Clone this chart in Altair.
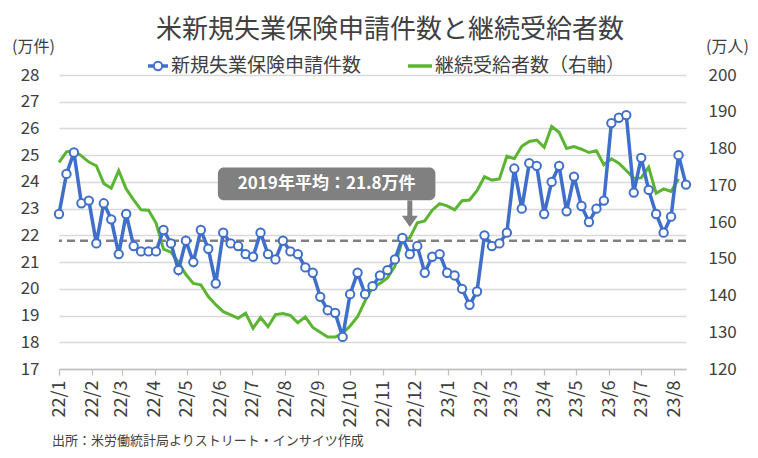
import altair as alt
import pandas as pd

TITLE = "米新規失業保険申請件数と継続受給者数"
LEFT_UNIT = "(万件)"
RIGHT_UNIT = "(万人)"
SERIES_CLAIMS = "新規失業保険申請件数"
SERIES_CONT = "継続受給者数（右軸）"
SOURCE = "出所：米労働統計局よりストリート・インサイツ作成"
AVG_LABEL = "2019年平均：21.8万件"
AVG_2019 = [21.8]

first_week = "2022-01-01"
last_day = "2023-08-12"

# weekly initial claims (万件), week ending Saturdays
claims = [22.8, 24.3, 25.1, 23.2, 23.3, 21.7, 23.2, 22.6, 21.3, 22.8,
          21.6, 21.4, 21.4, 21.4, 22.2, 21.7, 20.7, 21.8, 21.0, 22.2,
          21.5, 20.2, 22.1, 21.7, 21.6, 21.3, 21.2, 22.1, 21.3, 21.1,
          21.8, 21.4, 21.3, 20.8, 20.6, 19.7, 19.2, 19.1, 18.2, 19.8,
          20.6, 19.8, 20.1, 20.5, 20.7, 21.1, 21.9, 21.3, 21.6, 20.6,
          21.2, 21.3, 20.6, 20.5, 20.0, 19.4, 19.9, 22.0, 21.6, 21.7,
          22.1, 24.5, 23.0, 24.7, 24.6, 22.8, 24.0, 24.6, 22.9, 24.2,
          23.1, 22.5, 23.0, 23.3, 26.2, 26.4, 26.5, 23.6, 24.9, 23.7,
          22.8, 22.1, 22.7, 25.0, 23.9]

# continuing claims (万人), one week shorter
continuing = [176.2, 179.1, 179.4, 178.0, 176.3, 175.3, 170.5, 169.2, 174.0, 169.0,
              166.0, 163.3, 163.2, 159.7, 152.6, 151.8, 149.0, 145.7, 143.3, 142.9,
              139.7, 137.5, 135.6, 134.7, 133.8, 135.2, 131.1, 134.0, 131.5, 134.8,
              135.1, 134.6, 132.6, 134.2, 131.3, 130.0, 128.7, 128.7, 129.7, 131.7,
              134.2, 138.5, 142.3, 143.3, 144.8, 148.0, 155.1, 155.7, 159.8, 160.3,
              163.2, 165.0, 164.4, 163.3, 165.8, 166.0, 168.5, 172.3, 171.4, 171.7,
              177.9, 177.2, 180.6, 181.9, 182.3, 180.3, 186.0, 184.4, 180.0, 180.5,
              179.8, 178.9, 179.4, 175.6, 177.2, 176.0, 174.0, 171.9, 172.0, 174.9,
              167.8, 169.0, 168.3, 171.7]

left_ticks = list(range(17, 29))
right_ticks = list(range(120, 201, 10))

# annotation anchor (date range of box, arrow date, levels on left scale)
ann_box_dates = ["2022-05-30", "2022-12-20"]
ann_arrow_date = "2022-11-26"
ann_box_levels = [24.54, 23.31]
ann_text_level = 23.92
ann_shaft_levels = [23.31, 22.72]
ann_head_level = 22.52

BLUE = "#3f6fcb"
GREEN = "#5cb433"
GREY = "#808080"
TXT = "#404040"
FONT = "Noto Sans CJK JP"

weeks = pd.date_range(first_week, periods=len(claims), freq="7D")
df = pd.DataFrame({
    "date": weeks,
    "claims": claims,
    "continuing": continuing + [None] * (len(claims) - len(continuing)),
})

d0 = pd.Timestamp(first_week)
d1 = pd.Timestamp(last_day)
x_scale = alt.Scale(domain=[alt.DateTime(year=d0.year, month=d0.month, date=d0.day),
                            alt.DateTime(year=d1.year, month=d1.month, date=d1.day)],
                    nice=False)
left_scale = alt.Scale(domain=[17, 28], nice=False, zero=False)
right_scale = alt.Scale(domain=[120, 200], nice=False, zero=False)

x_axis = alt.Axis(
    tickCount=alt.TimeIntervalStep(interval="month", step=1),
    format="%y/%-m", labelAngle=270, labelAlign="right", labelBaseline="middle",
    labelFontSize=18, labelColor=TXT, labelFont=FONT, labelPadding=5,
    labelFlush=False, labelOverlap=False, labelBound=False,
    tickSize=6, tickColor="#bfbfbf", tickWidth=1.3,
    domainColor="#bfbfbf", domainWidth=1.5, grid=False, title=None,
)
left_axis = alt.Axis(
    values=left_ticks, grid=True, gridColor="#d9d9d9", gridWidth=1.3,
    domain=False, ticks=False, labelFontSize=17, labelColor=TXT, labelFont=FONT,
    labelPadding=20, title=None,
)
right_axis = alt.Axis(
    values=right_ticks, orient="right", grid=False, domain=False, ticks=False,
    labelFontSize=17, labelColor=TXT, labelFont=FONT, labelPadding=22, title=None,
)

def X(field):
    return alt.X(field, scale=x_scale, axis=x_axis)

avg_df = pd.DataFrame({"v": AVG_2019})
dashed = alt.Chart(avg_df).mark_rule(color=GREY, strokeWidth=2.5, strokeDash=[8, 5]).encode(
    y=alt.Y("v:Q", scale=left_scale, axis=left_axis)
)

green = alt.Chart(df).mark_line(color=GREEN, strokeWidth=3).encode(
    x=X("date:T"),
    y=alt.Y("continuing:Q", scale=right_scale, axis=right_axis),
)

blue_line = alt.Chart(df).mark_line(color=BLUE, strokeWidth=3.5).encode(
    x=X("date:T"),
    y=alt.Y("claims:Q", scale=left_scale, axis=None),
)
blue_pts = alt.Chart(df).mark_point(shape="circle", filled=True, fill="white", stroke=BLUE,
                                    strokeWidth=2, size=70, opacity=1).encode(
    x=X("date:T"),
    y=alt.Y("claims:Q", scale=left_scale, axis=None),
)

ann_df = pd.DataFrame({
    "x": [pd.Timestamp(ann_box_dates[0])], "x2": [pd.Timestamp(ann_box_dates[1])],
    "xm": [pd.Timestamp(ann_box_dates[0]) + (pd.Timestamp(ann_box_dates[1]) - pd.Timestamp(ann_box_dates[0])) / 2],
    "xa": [pd.Timestamp(ann_arrow_date)],
    "y": [ann_box_levels[0]], "y2": [ann_box_levels[1]],
    "yt": [ann_text_level], "ys": [ann_shaft_levels[0]], "ys2": [ann_shaft_levels[1]],
    "yh": [ann_head_level], "t": [AVG_LABEL],
})
box = alt.Chart(ann_df).mark_rect(color=GREY, cornerRadius=6).encode(
    x=X("x:T"), x2="x2:T",
    y=alt.Y("y:Q", scale=left_scale, axis=None), y2="y2:Q",
)
box_text = alt.Chart(ann_df).mark_text(color="white", fontSize=17, fontWeight="bold", font=FONT).encode(
    x=X("xm:T"),
    y=alt.Y("yt:Q", scale=left_scale, axis=None), text="t:N",
)
shaft = alt.Chart(ann_df).mark_rule(color=GREY, strokeWidth=5).encode(
    x=X("xa:T"),
    y=alt.Y("ys:Q", scale=left_scale, axis=None), y2="ys2:Q",
)
head = alt.Chart(ann_df).mark_point(shape="M-1,-0.7L1,-0.7L0,0.7Z", filled=True, color=GREY,
                                     size=256, opacity=1).encode(
    x=X("xa:T"),
    y=alt.Y("yh:Q", scale=left_scale, axis=None),
)

def label(text, x, y, size, align="left", weight="normal", color=TXT):
    return alt.Chart(pd.DataFrame({"t": [text]})).mark_text(
        fontSize=size, font=FONT, align=align, baseline="middle", color=color, fontWeight=weight
    ).encode(text="t:N", x=alt.value(x), y=alt.value(y))

title = label(TITLE, 331, -45, 26, align="center")
lunit = label(LEFT_UNIT, -47, -28, 16)
runit = label(RIGHT_UNIT, 647, -28, 16)
leg1_txt = label(SERIES_CLAIMS, 112, -9, 19)
leg2_txt = label(SERIES_CONT, 376, -9, 19)
source = label(SOURCE, -7, 366, 13)

leg1_line = alt.Chart(pd.DataFrame({"a": [0]})).mark_rule(color=BLUE, strokeWidth=3.5).encode(
    x=alt.value(89), x2=alt.value(109), y=alt.value(-9))
leg1_pt = alt.Chart(pd.DataFrame({"a": [0]})).mark_point(
    shape="circle", filled=True, fill="white", stroke=BLUE, strokeWidth=2, size=70, opacity=1
).encode(x=alt.value(99), y=alt.value(-9))
leg2_line = alt.Chart(pd.DataFrame({"a": [0]})).mark_rule(color=GREEN, strokeWidth=3.5).encode(
    x=alt.value(349), x2=alt.value(373), y=alt.value(-9))

chart = alt.layer(
    dashed, green, blue_line, blue_pts, box, box_text, shaft, head,
    title, lunit, runit, leg1_line, leg1_pt, leg1_txt, leg2_line, leg2_txt, source,
).resolve_scale(y="independent").properties(
    width=627, height=294,
    padding={"left": 51, "top": 67, "right": 64, "bottom": 81},
    autosize=alt.AutoSizeParams(type="none"),
    background="white",
).configure_view(stroke="transparent")

chart.save("out.html", embed_options={"renderer": "svg", "actions": False})
